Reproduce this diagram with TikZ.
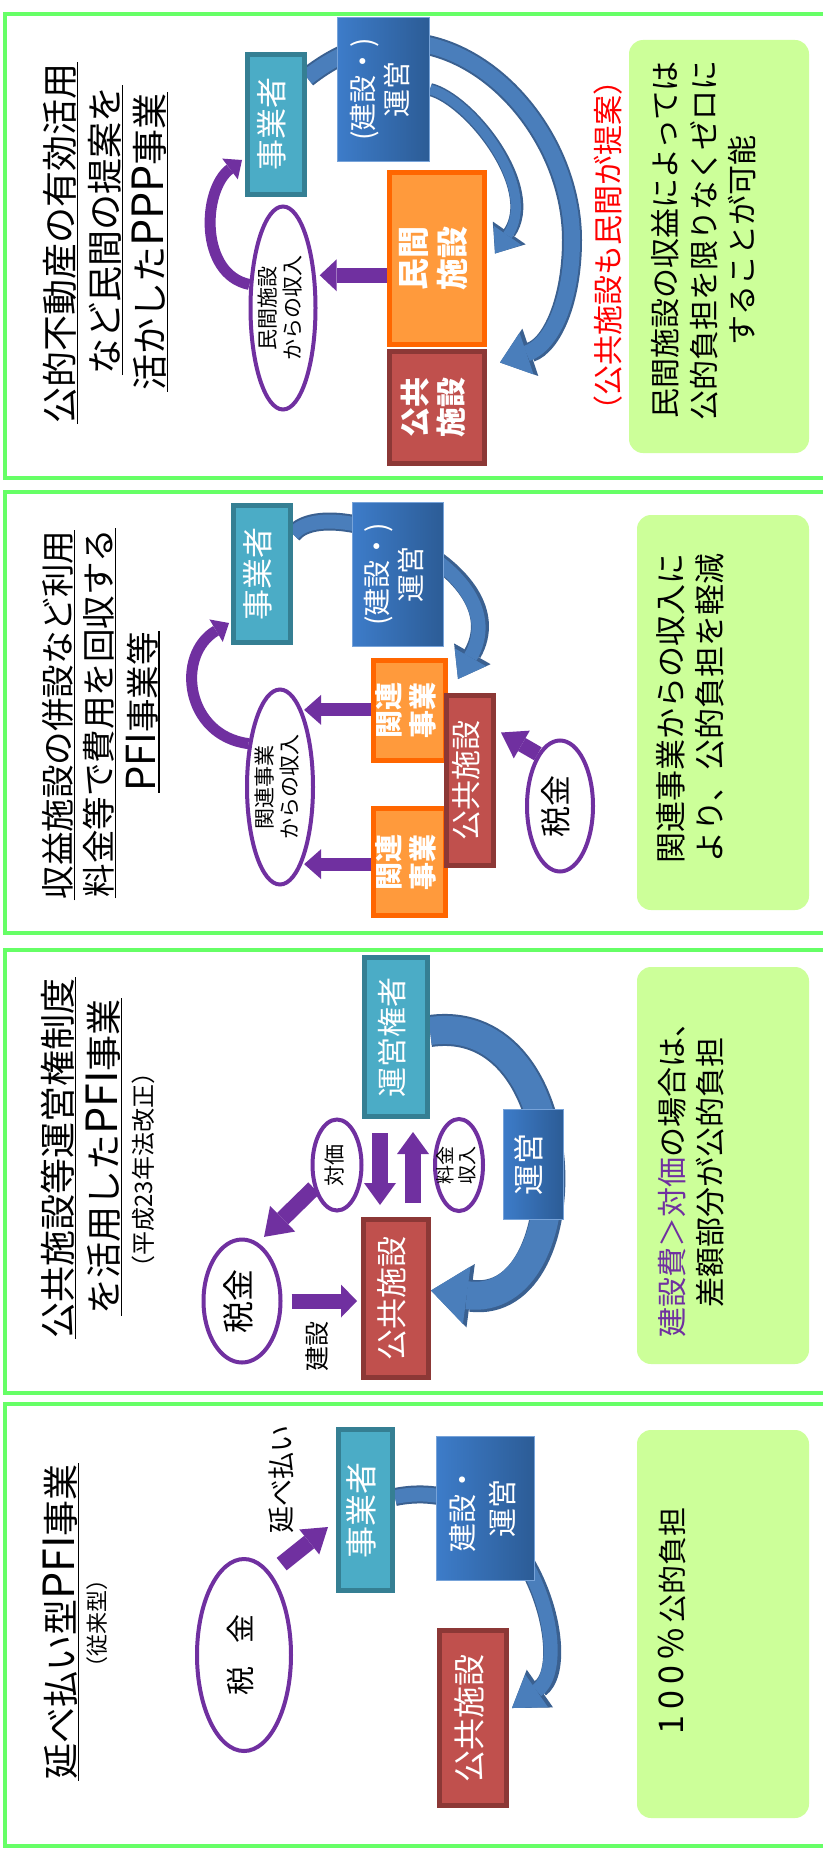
\documentclass[tikz,border=0pt]{standalone}
\usepackage{graphicx}
\usepackage{fontspec}
\setmainfont{Noto Sans CJK JP}
\usetikzlibrary{arrows.meta,shapes.geometric,calc}
\pgfdeclarelayer{bg}
\pgfsetlayers{bg,main}
\definecolor{frameg}{HTML}{66FF66}
\definecolor{calloutg}{HTML}{CCFF99}
\definecolor{tealf}{HTML}{4BACC6}
\definecolor{teald}{HTML}{357F93}
\definecolor{bluebl}{HTML}{3D7CC9}
\definecolor{bluebr}{HTML}{2C5C96}
\definecolor{arcl}{HTML}{4A7EBB}
\definecolor{arcd}{HTML}{3A6090}
\definecolor{orangef}{HTML}{FF9A3C}
\definecolor{oranged}{HTML}{FF6600}
\definecolor{redf}{HTML}{C0504D}
\definecolor{redd}{HTML}{8C3836}
\definecolor{purp}{HTML}{7030A0}
\newcommand{\myfs}[2]{\fontsize{#1}{#2}\selectfont}
\newcommand{\latn}[2]{{\fontsize{#1}{#1}\selectfont #2}}
\newcommand{\vtxt}[1]{\rotatebox{90}{\begin{tabular}{@{}c@{}}#1\end{tabular}}}
\newcommand{\barc}[7]{%
  \draw[draw=arcd, line width=#3, -{Triangle[length=#6,width=#7,line width=0pt]}] #1;
  \draw[draw=arcl, line width=#2, -{Triangle[length=#4,width=#5,line width=0pt]}] #1;}
\tikzset{
  pframe/.style={draw=frameg, line width=4pt},
  gbox/.style={fill=calloutg, rounded corners=14pt, inner sep=0pt},
  ttl/.style={rotate=90, inner sep=1pt, outer sep=0pt, font=\myfs{36}{44}},
  uline/.style={line width=1.5pt, draw=black},
  tealbox/.style={rectangle, fill=tealf, draw=teald, line width=5pt, inner sep=0pt, text=white},
  bluebox/.style={rectangle, left color=bluebl, right color=bluebr, draw=bluebl!70!white, line width=1pt, inner sep=0pt, text=white},
  orangebox/.style={rectangle, fill=orangef, draw=oranged, line width=5pt, inner sep=0pt, text=white},
  redbox/.style={rectangle, fill=redf, draw=redd, line width=5pt, inner sep=0pt, text=white},
  oval/.style={ellipse, draw=purp, line width=4pt, fill=white, inner sep=0pt},
  txt/.style={inner sep=0pt},
  parr/.style n args={3}{draw=purp, line width=#1, -{Triangle[length=#2,width=#3,line width=0pt]}},
}
\begin{document}
\begin{tikzpicture}[x=1pt,y=-1pt]
\useasboundingbox (0,0) rectangle (822,1854);
\begin{pgfonlayer}{bg}\fill[white] (0,0) rectangle (822,1854);\end{pgfonlayer}
% frames
\draw[pframe] (5,14) rectangle (840,478);
\draw[pframe] (5,492) rectangle (840,933);
\draw[pframe] (5,950) rectangle (840,1393);
\draw[pframe] (5,1404) rectangle (840,1846);
% callouts
\node[gbox, minimum width=180pt, minimum height=413pt] (c1) at (719,246.5) {};
\node[gbox, minimum width=172pt, minimum height=395pt] (c2) at (723,712.5) {};
\node[gbox, minimum width=172pt, minimum height=397pt] (c3) at (723,1165.5) {};
\node[gbox, minimum width=172pt, minimum height=388pt] (c4) at (723,1624) {};
\node[txt, font=\myfs{30}{38.5}] (c1t) at (707.5,240) {\vtxt{民間施設の収益によっては\\公的負担を限りなくゼロに\\することが可能}};
\node[txt, font=\myfs{31}{39}] (c2t) at (694.5,708) {\vtxt{関連事業からの収入に\\より、公的負担を軽減}};
\node[txt, font=\myfs{30}{38}] (c3t) at (695,1172) {\vtxt{{\color{purp}建設費＞対価}の場合は、\\差額部分が公的負担}};
\node[txt, font=\myfs{29}{34}] (c4t) at (676,1621) {\vtxt{\latn{34}{1\kern6pt 0\kern6pt 0\kern6pt\%\kern5pt}公的負担}};
% titles
\node[ttl] (t11) at (60,243) {公的不動産の有効活用};
\node[ttl] (t12) at (105,230) {など民間の提案を};
\node[ttl] (t13) at (149,242) {活かした\latn{43}{PPP}事業};
\node[ttl, font=\myfs{33.5}{40}] (t21) at (58,715) {収益施設の併設など利用};
\node[ttl, font=\myfs{33.5}{40}] (t22) at (99,713) {料金等で費用を回収する};
\node[ttl, font=\myfs{33.5}{40}] (t23) at (142,712) {\latn{40}{PFI}事業等};
\node[ttl] (t31) at (58,1158) {公共施設等運営権制度};
\node[ttl] (t32) at (103,1157) {を活用した\latn{43}{PFI}事業};
\node[ttl, font=\myfs{24}{28}] (t33) at (143,1170) {（平成23年法改正）};
\node[ttl] (t41) at (60,1622) {延べ払い型\latn{43}{PFI}事業};
\node[ttl, font=\myfs{22}{26}] (t42) at (97,1623) {（従来型）};
\foreach \t in {t11,t12,t13,t21,t22,t23,t31,t32,t41}{\draw[uline] (\t.south west) -- (\t.south east);}
% ---------- panel 1
\node[tealbox, minimum width=57pt, minimum height=140pt, font=\myfs{31}{36}] (p1j) at (276,124.5) {\vtxt{事業者}};
\node[bluebox, minimum width=92pt, minimum height=144pt, font=\myfs{28}{34}] (p1u) at (383.5,89.5) {\vtxt{(建設・)\\運営}};
\node[orangebox, minimum width=95pt, minimum height=172pt, font=\myfs{32}{38}\bfseries] (p1m) at (437,258.5) {\vtxt{民間\\施設}};
\node[redbox, minimum width=95pt, minimum height=112pt, font=\myfs{30}{36}\bfseries] (p1k) at (437,407.5) {\vtxt{公共\\施設}};
\node[oval, minimum width=65pt, minimum height=203pt] (p1e) at (283,308) {};
\node[txt, font=\myfs{21}{24}] (p1et) at (p1e) {\vtxt{民間施設\\からの収入}};
\node[txt, rotate=90, text=red, font=\myfs{30}{34}] (p1r) at (608,245) {（公共施設も民間が提案）};
\draw[parr={15pt}{17pt}{32pt}, shorten >=4pt] (p1m.west |- p1e.45) -- (p1e.45);
\draw[parr={11pt}{15pt}{26pt}] (p1e.145) .. controls +(-50,-10) and +(-40,30) .. ($(p1j.south west)+(-3,-37)$);
% ---------- panel 2
\node[tealbox, minimum width=57pt, minimum height=137pt, font=\myfs{31}{36}] (p2j) at (262,574) {\vtxt{事業者}};
\node[bluebox, minimum width=91pt, minimum height=144pt, font=\myfs{28}{34}] (p2u) at (398,574.5) {\vtxt{(建設・)\\運営}};
\node[orangebox, minimum width=72pt, minimum height=100pt, font=\myfs{28}{34}\bfseries] (p2a) at (409.5,710.5) {\vtxt{関連\\事業}};
\node[orangebox, minimum width=72pt, minimum height=107pt, font=\myfs{28}{34}\bfseries] (p2b) at (409.5,862) {\vtxt{関連\\事業}};
\node[redbox, minimum width=47pt, minimum height=170pt, font=\myfs{30}{36}] (p2k) at (470,780.5) {\vtxt{公共施設}};
\node[oval, minimum width=66pt, minimum height=195pt] (p2e) at (280,787) {};
\node[txt, font=\myfs{21}{24}] (p2et) at (p2e) {\vtxt{関連事業\\からの収入}};
\node[oval, minimum width=66pt, minimum height=131pt] (p2t) at (560,806) {};
\node[txt, font=\myfs{31}{36}] (p2tt) at (p2t) {\vtxt{税金}};
\draw[parr={13pt}{17pt}{30pt}, shorten >=2pt] (p2a.west |- p2e.74) -- (p2e.74);
\draw[parr={13pt}{17pt}{30pt}, shorten >=2pt] (p2b.west |- p2e.-74) -- (p2e.-74);
\draw[parr={15pt}{24pt}{32pt}] (p2t.113) -- ($(p2k.east)+(5,-48)$);
\draw[parr={11pt}{15pt}{26pt}] (p2e.126) .. controls +(-63,-8) and +(-54,32) .. ($(p2j.south west)+(-2,-22)$);
% ---------- panel 3
\node[tealbox, minimum width=63pt, minimum height=159pt, font=\myfs{30}{36}] (p3o) at (396,1037) {\vtxt{運営権者}};
\node[redbox, minimum width=65pt, minimum height=158pt, font=\myfs{31}{36}] (p3k) at (396,1298.5) {\vtxt{公共施設}};
\node[bluebox, minimum width=60pt, minimum height=110pt, font=\myfs{31}{36}] (p3u) at (533,1164) {\vtxt{運営}};
\node[oval, minimum width=49pt, minimum height=91pt] (p3a) at (337,1165) {};
\node[txt, font=\myfs{21}{24}] (p3at) at (p3a) {\vtxt{対価}};
\node[oval, minimum width=48pt, minimum height=92pt] (p3r) at (459,1165) {};
\node[txt, font=\myfs{19}{22}] (p3rt) at (p3r) {\vtxt{料金\\収入}};
\node[oval, minimum width=77pt, minimum height=123pt] (p3t) at (242,1301) {};
\node[txt, font=\myfs{32}{36}] (p3tt) at (p3t) {\vtxt{税金}};
\node[txt, rotate=90, font=\myfs{25}{30}] (p3c) at (317,1346) {建設};
\draw[parr={16pt}{22pt}{32pt}, shorten <=14pt, shorten >=12pt] ([xshift=-16pt]p3o.south) -- ([xshift=-16pt]p3k.north);
\draw[parr={16pt}{22pt}{32pt}, shorten <=14pt, shorten >=13pt] ([xshift=17pt]p3k.north) -- ([xshift=17pt]p3o.south);
\draw[parr={16pt}{26pt}{36pt}] (p3a.-135) -- ($(p3t.70)+(2,-9)$);
\draw[parr={15pt}{16pt}{33pt}, shorten <=9pt, shorten >=4pt] (p3t.east) -- (p3t.east -| p3k.west);
% ---------- panel 4
\node[tealbox, minimum width=54pt, minimum height=161pt, font=\myfs{32}{36}] (p4j) at (365.5,1510) {\vtxt{事業者}};
\node[bluebox, minimum width=98pt, minimum height=144pt, font=\myfs{29}{39.5}] (p4u) at (485.5,1508.5) {\vtxt{建設・\\運営}};
\node[redbox, minimum width=67pt, minimum height=175pt, font=\myfs{32}{36}] (p4k) at (473,1718) {\vtxt{公共施設}};
\node[oval, minimum width=94pt, minimum height=192pt] (p4t) at (244,1655) {};
\node[txt, font=\myfs{29}{34}] (p4tt) at (p4t) {\vtxt{税\hspace{0.8em}金}};
\node[txt, rotate=90, font=\myfs{27}{32}] (p4l) at (281,1479) {延べ払い};
\draw[parr={16pt}{24pt}{32pt}, shorten <=14pt] (p4t.72) -- ($(p4j.west)+(-8,17)$);
% ---------- blue curved arrows (behind boxes)
\begin{pgfonlayer}{bg}
\barc{([yshift=47pt]p1j.east) .. controls +(28,-22) and (365,42) .. (400,42) .. controls (490,42) and (572,140) .. (572,240) .. controls (572,300) and (552,345) .. ($(p1k.east)+(13,-45)$)}{16pt}{20pt}{28pt}{44pt}{32pt}{50pt}
\barc{(p1u.east) .. controls +(40,10) and +(45,-65) .. ($(p1m.east)+(8,-5)$)}{10pt}{13pt}{22pt}{34pt}{25pt}{40pt}
\barc{([yshift=40pt]p2j.east) .. controls (330,490) and (520,570) .. ($(p2k.north)+(-12,-14)$)}{14pt}{18pt}{25pt}{36pt}{29pt}{42pt}
\barc{([yshift=6pt]p3o.east) .. controls +(150,-21) and +(152,20) .. ([yshift=8pt]p3k.east)}{28pt}{32pt}{36pt}{58pt}{40pt}{64pt}
\barc{([yshift=13pt]p4j.east) .. controls +(132,-27) and +(66,-46) .. ($(p4k.east)+(3,-10)$)}{14pt}{18pt}{30pt}{40pt}{34pt}{46pt}
\end{pgfonlayer}
\end{tikzpicture}
\end{document}
